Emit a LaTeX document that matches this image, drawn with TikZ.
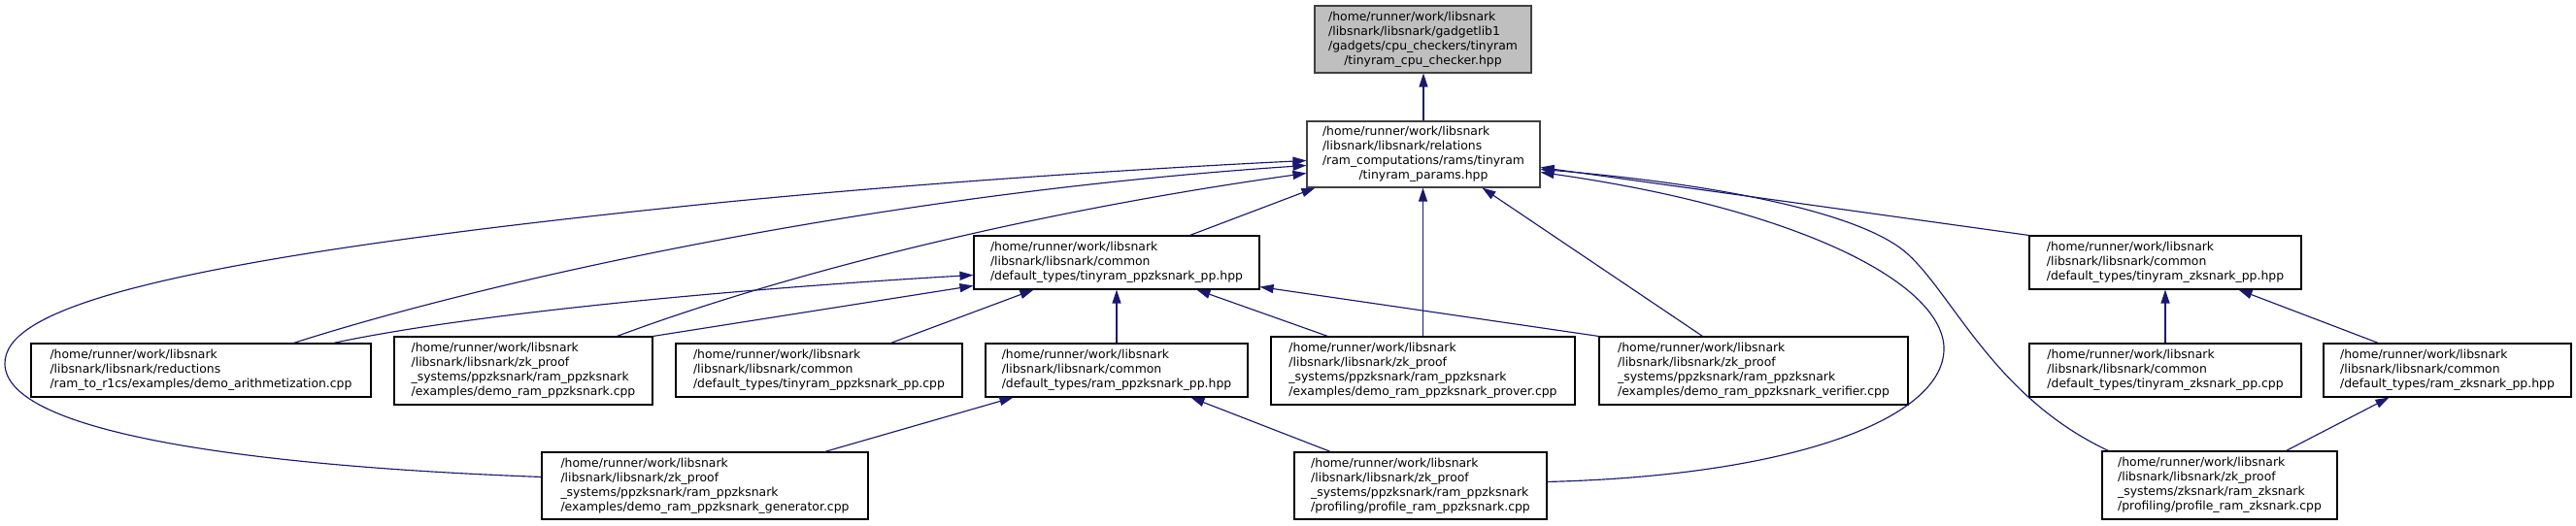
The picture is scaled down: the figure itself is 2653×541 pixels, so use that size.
\documentclass[tikz,border=0pt]{standalone}
\usepackage{fontspec}
\setmainfont{DejaVu Sans}
\usetikzlibrary{arrows.meta,calc}
\definecolor{edgecol}{HTML}{191970}
\definecolor{rootfill}{HTML}{BFBFBF}
\definecolor{darkborder}{HTML}{404040}
\newcommand\flbl[2]{\begin{tabular}{@{}l@{}}#1\\\multicolumn{1}{@{}c@{}}{#2}\end{tabular}}
\begin{document}
\begin{tikzpicture}[x=1pt,y=-1pt,
  filebox/.style={draw=black, line width=1.1pt, fill=white, inner sep=0pt,
    font=\fontsize{12.4}{15}\selectfont, text=black},
  link/.style={draw=edgecol, line width=1.15pt, -{Triangle[length=14pt,width=9pt]}}]
\useasboundingbox (0,0) rectangle (2653,541);

% nodes
\node[filebox, fill=rootfill, draw=darkborder, minimum width=223pt, minimum height=69pt] (n1) at (1465.5,40.5)
  {\flbl{/home/runner/work/libsnark\\/libsnark/libsnark/gadgetlib1\\/gadgets/cpu\_checkers/tinyram}{/tinyram\_cpu\_checker.hpp}};
\node[filebox, draw=darkborder, minimum width=240pt, minimum height=68pt] (n2) at (1466,159)
  {\flbl{/home/runner/work/libsnark\\/libsnark/libsnark/relations\\/ram\_computations/rams/tinyram}{/tinyram\_params.hpp}};
\node[filebox, minimum width=294pt, minimum height=55pt] (n3) at (1150,270.5)
  {\flbl{/home/runner/work/libsnark\\/libsnark/libsnark/common}{/default\_types/tinyram\_ppzksnark\_pp.hpp}};
\node[filebox, minimum width=350pt, minimum height=55pt] (n4) at (207,381.5)
  {\flbl{/home/runner/work/libsnark\\/libsnark/libsnark/reductions}{/ram\_to\_r1cs/examples/demo\_arithmetization.cpp}};
\node[filebox, minimum width=266pt, minimum height=70pt] (n5) at (539,382)
  {\flbl{/home/runner/work/libsnark\\/libsnark/libsnark/zk\_proof\\\_systems/ppzksnark/ram\_ppzksnark}{/examples/demo\_ram\_ppzksnark.cpp}};
\node[filebox, minimum width=295pt, minimum height=55pt] (n6) at (843.5,381.5)
  {\flbl{/home/runner/work/libsnark\\/libsnark/libsnark/common}{/default\_types/tinyram\_ppzksnark\_pp.cpp}};
\node[filebox, minimum width=270pt, minimum height=55pt] (n7) at (1150,381.5)
  {\flbl{/home/runner/work/libsnark\\/libsnark/libsnark/common}{/default\_types/ram\_ppzksnark\_pp.hpp}};
\node[filebox, minimum width=313pt, minimum height=70pt] (n8) at (1465.5,382)
  {\flbl{/home/runner/work/libsnark\\/libsnark/libsnark/zk\_proof\\\_systems/ppzksnark/ram\_ppzksnark}{/examples/demo\_ram\_ppzksnark\_prover.cpp}};
\node[filebox, minimum width=318pt, minimum height=70pt] (n9) at (1806,382)
  {\flbl{/home/runner/work/libsnark\\/libsnark/libsnark/zk\_proof\\\_systems/ppzksnark/ram\_ppzksnark}{/examples/demo\_ram\_ppzksnark\_verifier.cpp}};
\node[filebox, minimum width=280pt, minimum height=55pt] (n10) at (2230,270.5)
  {\flbl{/home/runner/work/libsnark\\/libsnark/libsnark/common}{/default\_types/tinyram\_zksnark\_pp.hpp}};
\node[filebox, minimum width=280pt, minimum height=55pt] (n11) at (2230,381.5)
  {\flbl{/home/runner/work/libsnark\\/libsnark/libsnark/common}{/default\_types/tinyram\_zksnark\_pp.cpp}};
\node[filebox, minimum width=255pt, minimum height=55pt] (n12) at (2520.5,381.5)
  {\flbl{/home/runner/work/libsnark\\/libsnark/libsnark/common}{/default\_types/ram\_zksnark\_pp.hpp}};
\node[filebox, minimum width=336pt, minimum height=69pt] (n13) at (726,500.5)
  {\flbl{/home/runner/work/libsnark\\/libsnark/libsnark/zk\_proof\\\_systems/ppzksnark/ram\_ppzksnark}{/examples/demo\_ram\_ppzksnark\_generator.cpp}};
\node[filebox, minimum width=260pt, minimum height=69pt] (n14) at (1463,500.5)
  {\flbl{/home/runner/work/libsnark\\/libsnark/libsnark/zk\_proof\\\_systems/ppzksnark/ram\_ppzksnark}{/profiling/profile\_ram\_ppzksnark.cpp}};
\node[filebox, minimum width=242pt, minimum height=70pt] (n15) at (2286,500)
  {\flbl{/home/runner/work/libsnark\\/libsnark/libsnark/zk\_proof\\\_systems/zksnark/ram\_zksnark}{/profiling/profile\_ram\_zksnark.cpp}};

% edges (child -> parent)
\draw[link] (n2.north) -- (n2.north |- n1.south);
\draw[link] ($(n3.north west)+(223,0)$) -- ($(n2.south west)+(9,0)$);
\draw[link] ($(n4.north west)+(271,0)$) .. controls (500,290) and (900,200) .. ($(n2.north west)+(0,46)$);
\draw[link] ($(n5.north west)+(230,0)$) .. controls (800,285) and (1050,220) .. ($(n2.north west)+(0,54)$);
\draw[link] ($(n13.north west)+(0,26)$) .. controls (250,480) and (6,445) .. (5,375)
  .. controls (4,320) and (150,270) .. (700,213)
  .. controls (900,192) and (1150,175) .. ($(n2.north west)+(0,41)$);
\draw[link] (n8.north) -- (n8.north |- n2.south);
\draw[link] ($(n9.north west)+(107,0)$) -- ($(n2.south west)+(181,0)$);
\draw[link] (n10.north west) -- ($(n2.north east)+(0,48)$);
\draw[link] ($(n14.north east)+(0,31)$) .. controls (1850,490) and (2005,430) .. (2002,357)
  .. controls (1998,290) and (1850,215) .. ($(n2.north east)+(0,53)$);
\draw[link] ($(n15.north west)+(7,0)$) .. controls (2055,410) and (2012,305) .. (1965,262)
  .. controls (1915,216) and (1750,188) .. ($(n2.north east)+(0,50)$);
\draw[link] ($(n4.north west)+(312,0)$) .. controls (500,320) and (800,295) .. ($(n3.north west)+(0,41)$);
\draw[link] (n5.north east) -- ($(n3.north west)+(0,52)$);
\draw[link] ($(n6.north west)+(222,0)$) -- ($(n3.south west)+(62,0)$);
\draw[link] (n7.north) -- (n3.south);
\draw[link] ($(n8.north west)+(59,0)$) -- ($(n3.south west)+(230,0)$);
\draw[link] (n9.north west) -- ($(n3.south east)+(0,-3)$);
\draw[link] ($(n13.north west)+(292,0)$) -- ($(n7.south west)+(29,0)$);
\draw[link] ($(n14.north west)+(38,0)$) -- ($(n7.south west)+(212,0)$);
\draw[link] (n11.north) -- (n10.south);
\draw[link] ($(n12.north west)+(57,0)$) -- ($(n10.south west)+(216,0)$);
\draw[link] ($(n15.north west)+(190,0)$) -- ($(n12.south west)+(68,0)$);
\end{tikzpicture}
\end{document}
